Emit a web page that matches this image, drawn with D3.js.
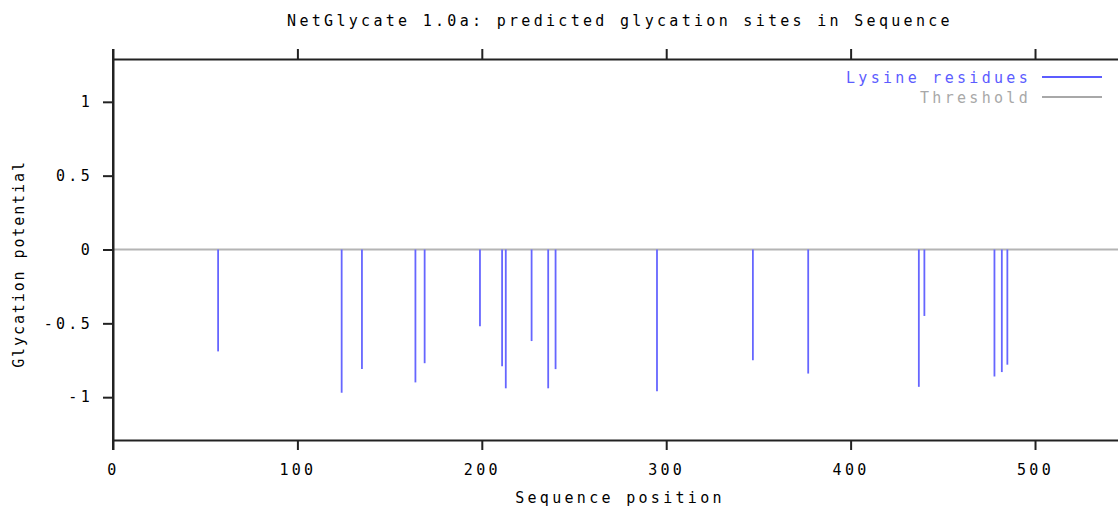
<!DOCTYPE html>
<html>
<head>
<meta charset="utf-8">
<script src="https://cdn.jsdelivr.net/npm/d3@7.9.0/dist/d3.min.js"></script>
<style>
  body { margin: 0; background: white; }
  svg text { font-family: "DejaVu Sans Mono", monospace; font-size: 15px; }
</style>
</head>
<body>
<svg id="chart" width="1118" height="506"></svg>
<script>
// lysine positions and predicted glycation potential
const positions = [57, 124, 135, 164, 169, 199, 211, 213, 227, 236, 240, 295, 347, 377, 437, 440, 478, 482, 485];
const potentials = [-0.69, -0.97, -0.81, -0.90, -0.77, -0.52, -0.79, -0.94, -0.62, -0.94, -0.81, -0.96, -0.75, -0.84, -0.93, -0.45, -0.86, -0.83, -0.78];
const threshold = 0;
const xTicks = [0, 100, 200, 300, 400, 500];
const yTicks = [-1, -0.5, 0, 0.5, 1];
const legendLabels = ["Lysine residues", "Threshold"];
const legendColors = ["#5c5cff", "#a8a8a8"];

const svg = d3.select("#chart");
const plotLeft = 113, plotRight = 1118, plotTop = 59, plotBottom = 440;

const x = d3.scaleLinear().domain([0, 545]).range([plotLeft, plotRight]);
const y = d3.scaleLinear().domain([-1.29, 1.29]).range([plotBottom, plotTop]);

const axisColor = "#222";

// threshold line
svg.append("line")
  .attr("x1", plotLeft)
  .attr("x2", plotRight)
  .attr("y1", y(threshold))
  .attr("y2", y(threshold))
  .attr("stroke", "#b4b4b4")
  .attr("stroke-width", 2);

// impulses
const data = positions.map((p, i) => ({ pos: p, val: potentials[i] }));
svg.append("g").selectAll("line")
  .data(data)
  .join("line")
  .attr("x1", d => x(d.pos))
  .attr("x2", d => x(d.pos))
  .attr("y1", y(0))
  .attr("y2", d => y(d.val))
  .attr("stroke", "#6666ff")
  .attr("stroke-width", 1.8);

// axes
function styleAxis(g) {
  g.select(".domain").attr("stroke", axisColor).attr("stroke-width", 2);
  g.selectAll(".tick line").attr("stroke", axisColor).attr("stroke-width", 2);
  g.selectAll(".tick text")
    .attr("fill", "#000")
    .style("font-family", "'DejaVu Sans Mono', monospace")
    .style("font-size", "15px")
    .style("letter-spacing", "3.3px");
}

svg.append("g")
  .attr("transform", `translate(0,${plotBottom})`)
  .call(d3.axisBottom(x).tickValues(xTicks).tickFormat(d3.format("d")).tickSize(10).tickSizeOuter(0).tickPadding(14))
  .call(styleAxis);

svg.append("g")
  .attr("transform", `translate(0,${plotTop})`)
  .call(d3.axisTop(x).tickValues(xTicks).tickFormat("").tickSize(10).tickSizeOuter(0))
  .call(styleAxis);

svg.append("g")
  .attr("transform", `translate(${plotLeft},0)`)
  .call(d3.axisLeft(y).tickValues(yTicks).tickFormat(d => String(d)).tickSize(10).tickSizeOuter(0).tickPadding(10))
  .call(styleAxis);

// left axis extends past the top and bottom axes
svg.append("line")
  .attr("x1", plotLeft).attr("x2", plotLeft)
  .attr("y1", plotTop - 10).attr("y2", plotBottom + 10)
  .attr("stroke", axisColor)
  .attr("stroke-width", 2);

// title
svg.append("text")
  .attr("x", 620)
  .attr("y", 26)
  .attr("text-anchor", "middle")
  .style("letter-spacing", "3.3px")
  .text("NetGlycate 1.0a: predicted glycation sites in Sequence");

svg.append("text")
  .attr("x", 620)
  .attr("y", 503)
  .attr("text-anchor", "middle")
  .style("letter-spacing", "3.3px")
  .text("Sequence position");

svg.append("text")
  .attr("transform", "rotate(-90)")
  .attr("x", -264)
  .attr("y", 24)
  .attr("text-anchor", "middle")
  .style("letter-spacing", "1.9px")
  .text("Glycation potential");

// legend
const legend = svg.append("g");
legendLabels.forEach((label, i) => {
  const ly = 77 + i * 20;
  legend.append("text")
    .attr("x", 1031)
    .attr("y", ly + 6)
    .attr("text-anchor", "end")
    .attr("fill", legendColors[i])
    .style("letter-spacing", "3.3px")
    .text(label);
  legend.append("line")
    .attr("x1", 1042)
    .attr("x2", 1102)
    .attr("y1", ly)
    .attr("y2", ly)
    .attr("stroke", legendColors[i])
    .attr("stroke-width", 2);
});
</script>
</body>
</html>
